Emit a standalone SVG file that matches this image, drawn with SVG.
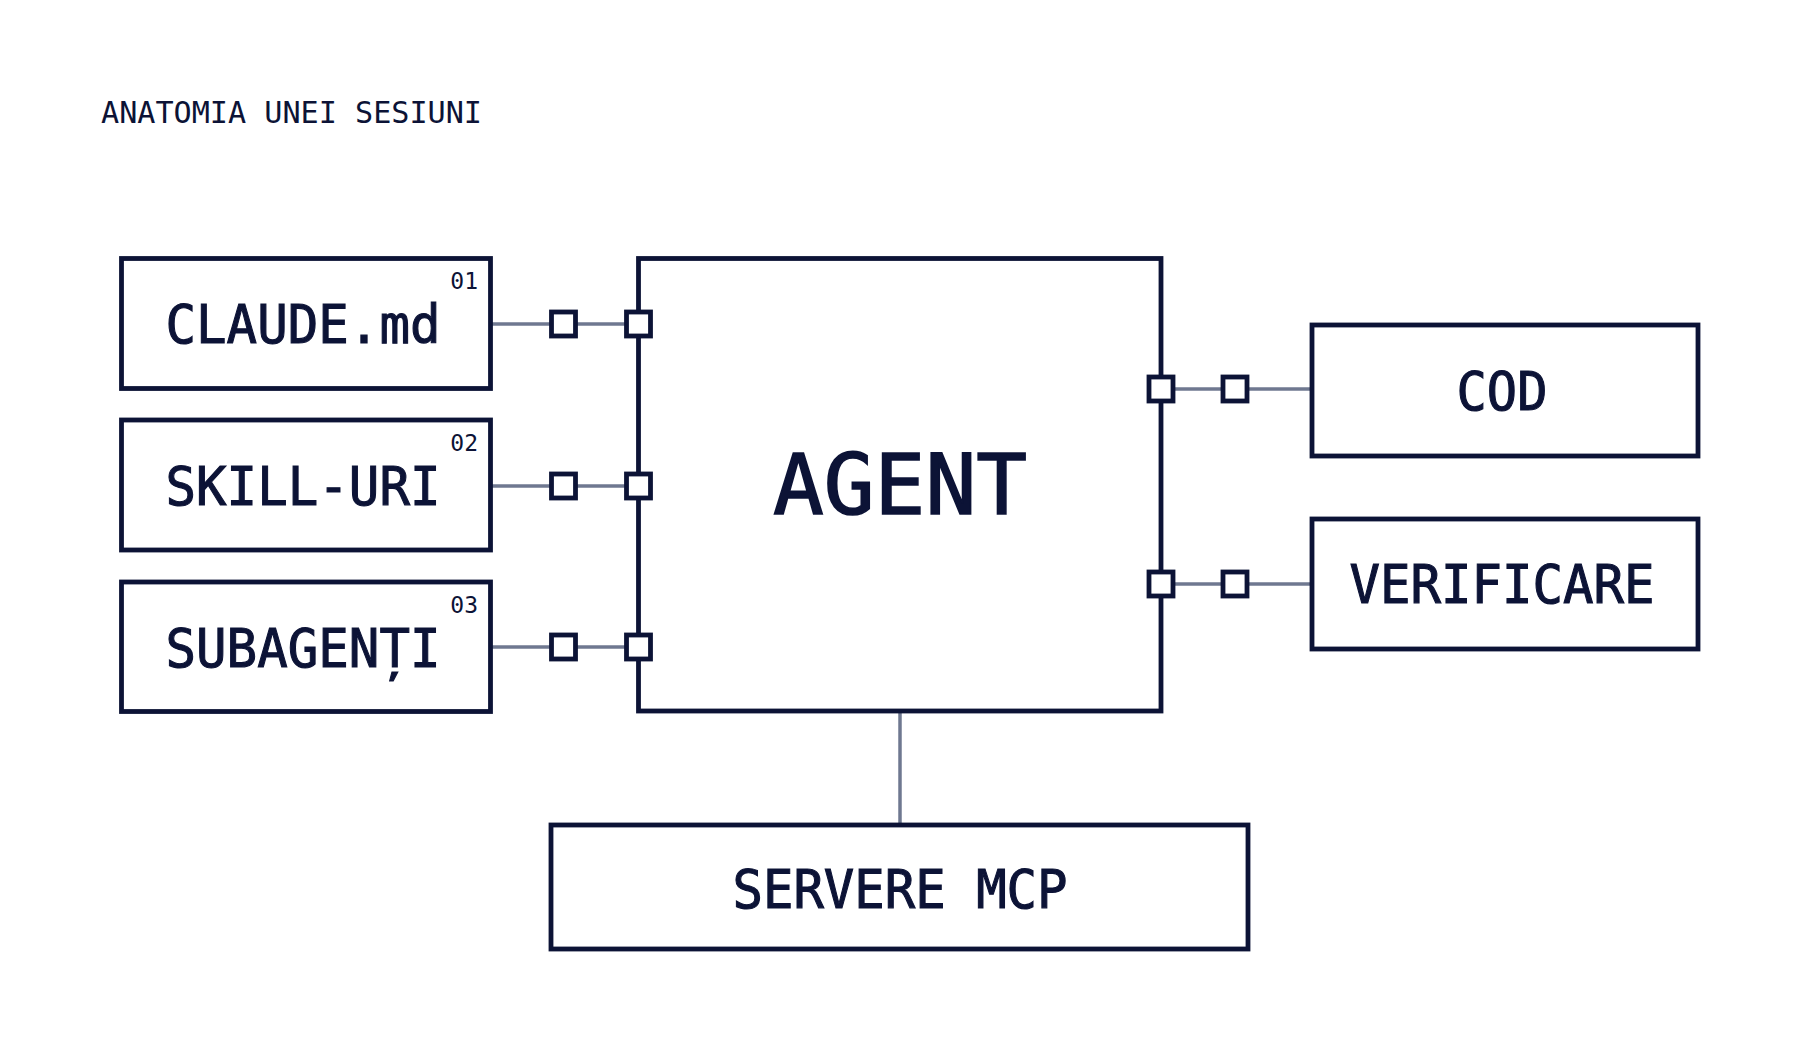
<svg xmlns="http://www.w3.org/2000/svg" width="1802" height="1053" viewBox="0 0 1802 1053">
  <style>
    .box { fill: #ffffff; stroke: #0c1336; stroke-width: 4.8; }
    .port { fill: #ffffff; stroke: #0c1336; stroke-width: 4.8; }
    .conn { stroke: #6f7890; stroke-width: 3.5; fill: none; }
    .lbl { font-family: "DejaVu Sans Mono", "Liberation Mono", monospace; font-size: 54px; fill: #0c1336; stroke: #0c1336; stroke-width: 1.1; text-anchor: middle; }
    .num { font-family: "DejaVu Sans Mono", "Liberation Mono", monospace; font-size: 23px; fill: #0c1336; text-anchor: end; }
    .title { font-family: "DejaVu Sans Mono", "Liberation Mono", monospace; font-size: 30px; fill: #0c1336; }
    .big { font-family: "DejaVu Sans Mono", "Liberation Mono", monospace; font-size: 83px; fill: #0c1336; stroke: #0c1336; stroke-width: 1.6; text-anchor: middle; }
  </style>
  <rect x="0" y="0" width="1802" height="1053" fill="#ffffff"/>
  <text class="title" x="101" y="123" textLength="381" lengthAdjust="spacingAndGlyphs">ANATOMIA UNEI SESIUNI</text>

  <g id="connectors">
    <line class="conn" x1="490.5" y1="324" x2="638.5" y2="324"/>
    <line class="conn" x1="490.5" y1="486" x2="638.5" y2="486"/>
    <line class="conn" x1="490.5" y1="647" x2="638.5" y2="647"/>
    <line class="conn" x1="1161" y1="389" x2="1312" y2="389"/>
    <line class="conn" x1="1161" y1="584" x2="1312" y2="584"/>
    <line class="conn" x1="900" y1="711" x2="900" y2="825"/>
  </g>

  <g id="claude-md">
    <rect class="box" x="121.5" y="258.5" width="369" height="130"/>
    <text class="num" x="478" y="289">01</text>
    <text class="lbl" x="303" y="343" textLength="275" lengthAdjust="spacingAndGlyphs">CLAUDE.md</text>
  </g>
  <g id="skill-uri">
    <rect class="box" x="121.5" y="420" width="369" height="130"/>
    <text class="num" x="478" y="451">02</text>
    <text class="lbl" x="303" y="505" textLength="275" lengthAdjust="spacingAndGlyphs">SKILL-URI</text>
  </g>
  <g id="subagenti">
    <rect class="box" x="121.5" y="582" width="369" height="129.5"/>
    <text class="num" x="478" y="613">03</text>
    <text class="lbl" x="303" y="667" textLength="275" lengthAdjust="spacingAndGlyphs">SUBAGENȚI</text>
  </g>

  <g id="agent">
    <rect class="box" x="638.5" y="258.5" width="522.5" height="452.5"/>
    <text class="big" x="900" y="514" textLength="254" lengthAdjust="spacingAndGlyphs">AGENT</text>
  </g>

  <g id="ports">
    <rect class="port" x="551.5" y="312" width="24" height="24"/>
    <rect class="port" x="626.5" y="312" width="24" height="24"/>
    <rect class="port" x="551.5" y="474" width="24" height="24"/>
    <rect class="port" x="626.5" y="474" width="24" height="24"/>
    <rect class="port" x="551.5" y="635" width="24" height="24"/>
    <rect class="port" x="626.5" y="635" width="24" height="24"/>
    <rect class="port" x="1149" y="377" width="24" height="24"/>
    <rect class="port" x="1223" y="377" width="24" height="24"/>
    <rect class="port" x="1149" y="572" width="24" height="24"/>
    <rect class="port" x="1223" y="572" width="24" height="24"/>
  </g>

  <g id="cod">
    <rect class="box" x="1312" y="325" width="386" height="131"/>
    <text class="lbl" x="1502" y="410" textLength="91" lengthAdjust="spacingAndGlyphs">COD</text>
  </g>
  <g id="verificare">
    <rect class="box" x="1312" y="519" width="386" height="130"/>
    <text class="lbl" x="1502" y="603" textLength="305" lengthAdjust="spacingAndGlyphs">VERIFICARE</text>
  </g>
  <g id="servere-mcp">
    <rect class="box" x="551" y="825" width="697" height="124"/>
    <text class="lbl" x="900" y="908" textLength="335" lengthAdjust="spacingAndGlyphs">SERVERE MCP</text>
  </g>
</svg>
